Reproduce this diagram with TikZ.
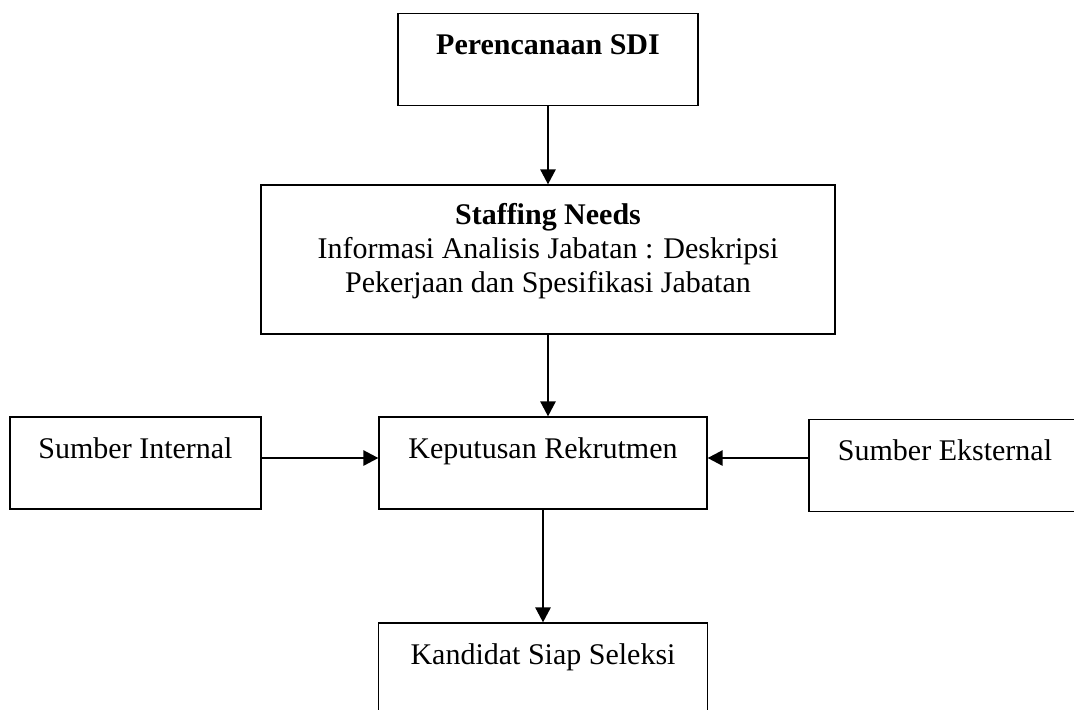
\documentclass[tikz,border=0pt]{standalone}
\usepackage{fontspec}
\setmainfont{Liberation Serif}
\usetikzlibrary{positioning, arrows.meta}
\tikzstyle{box} = [rectangle, draw=black, line width=0.6pt, inner sep=0pt, align=flush center, text height=20.5pt, text depth=25.5pt, font=\fontsize{15pt}{17pt}\selectfont]
\tikzstyle{arrow} = [line width=1.3pt, -{Triangle[length=7.5pt, width=7.5pt]}]
\begin{document}
\begin{tikzpicture}[node distance=100pt]
    \clip (0,0) rectangle (537pt,-354.5pt);
    \node (sdi) [box, minimum width=150pt] at (274pt,-29.75pt) {\textbf{Perencanaan SDI}};
    \node (needs) [box, below of=sdi, minimum width=287pt, text width=287pt, text height=19.5pt, text depth=55pt]
      {\textbf{Staffing Needs}\\Informasi Analisis Jabatan : Deskripsi\\Pekerjaan dan Spesifikasi Jabatan};
    \node (kep) [box, minimum width=164pt, below of=needs, xshift=-2.5pt, yshift=-1.75pt] {Keputusan Rekrutmen};
    \node (intern) [box, minimum width=125.5pt, left of=kep, xshift=-103.75pt] {Sumber Internal};
    \node (ekstern) [box, minimum width=136pt, right of=kep, xshift=101pt, yshift=-1.25pt] {Sumber Eksternal};
    \node (kandidat) [box, minimum width=164.5pt, below of=kep, yshift=-3pt] {Kandidat Siap Seleksi};
    \draw [arrow] (sdi) -- (needs);
    \draw [arrow] (needs.south) -- (needs.south |- kep.north);
    \draw [arrow] (intern.base east) -- (kep.base west);
    \draw [arrow] (ekstern.west |- kep.base) -- (kep.base east);
    \draw [arrow] (kep) -- (kandidat);
\end{tikzpicture}
\end{document}
